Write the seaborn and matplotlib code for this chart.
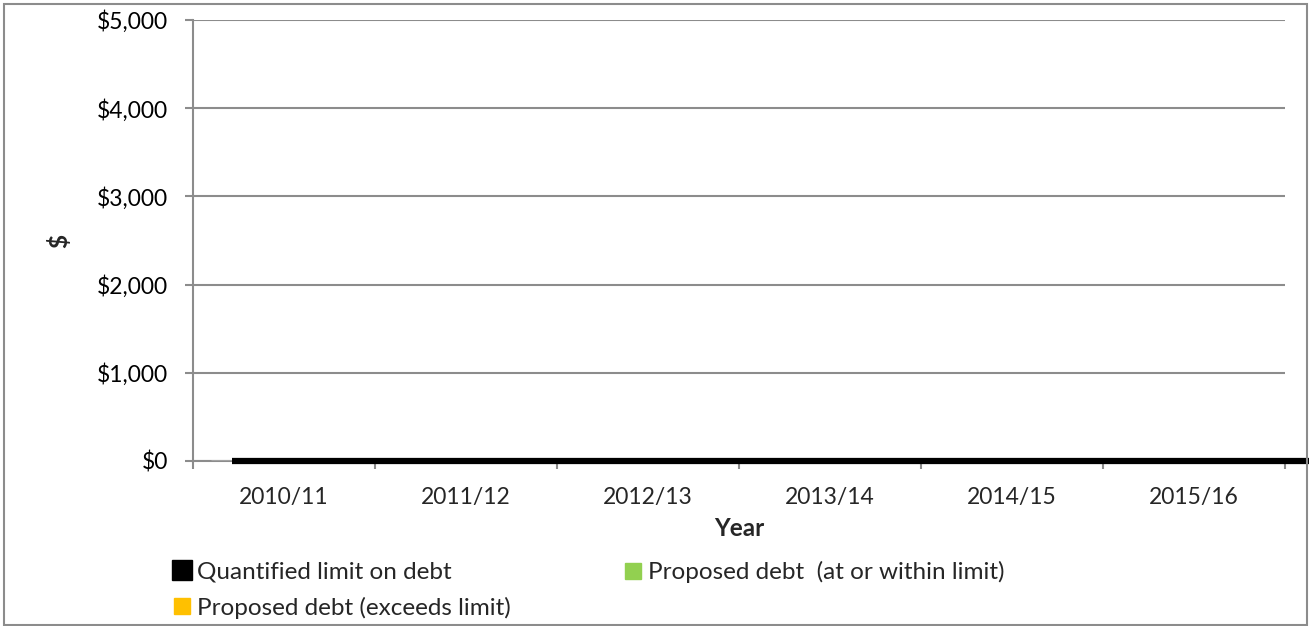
import matplotlib
matplotlib.use("Agg")
import matplotlib.pyplot as plt
import matplotlib.patches as mpatches
from matplotlib.lines import Line2D
import matplotlib.ticker as mticker
import seaborn as sns
import pandas as pd
import numpy as np

# ---- data ----
years = ["2010/11", "2011/12", "2012/13", "2013/14", "2014/15", "2015/16"]
limit_on_debt = [0, 0, 0, 0, 0, 0]
proposed_within = [0, 0, 0, 0, 0, 0]
proposed_exceeds = [0, 0, 0, 0, 0, 0]
y_ticks = [0, 1000, 2000, 3000, 4000, 5000]
series_names = ["Quantified limit on debt",
                "Proposed debt  (at or within limit)",
                "Proposed debt (exceeds limit)"]

GREEN = "#92D050"
ORANGE = "#FFC000"
GRID = "#8c8c8c"

sns.set_style("white")
plt.rcParams["font.family"] = ["Lato", "DejaVu Sans"]

W, H = 1309, 626
fig = plt.figure(figsize=(W/100, H/100), dpi=100)
ax = fig.add_axes([193/W, 1-461/H, (1285-193)/W, (461-20)/H])

df = pd.DataFrame({
    "Year": years * 2,
    "Value": proposed_within + proposed_exceeds,
    "Series": [series_names[1]] * len(years) + [series_names[2]] * len(years),
})
sns.barplot(data=df, x="Year", y="Value", hue="Series",
            palette=[GREEN, ORANGE], ax=ax, legend=False, zorder=3)

ax.set_xlim(-0.5, len(years) - 0.5)
ax.set_ylim(0, 5000)
ax.set_yticks(y_ticks)
ax.yaxis.set_major_formatter(mticker.FuncFormatter(lambda v, p: f"${v:,.0f}"))
ax.grid(axis="y", color=GRID, lw=1.5, zorder=0)
ax.grid(axis="x", visible=False)
for s in ["top", "right"]:
    ax.spines[s].set_visible(False)
ax.spines["left"].set_color(GRID)
ax.spines["left"].set_linewidth(1.5)
ax.spines["bottom"].set_color(GRID)
ax.spines["bottom"].set_linewidth(1.5)

ax.tick_params(axis="y", length=6, width=1.5, color=GRID, pad=12,
               labelsize=16.5, labelcolor="black", left=True)
ax.set_xticks(range(len(years)))
ax.set_xticklabels(years)
ax.set_xticks(np.arange(-0.5, len(years)), minor=True)
ax.tick_params(axis="x", which="major", length=0, pad=19, labelsize=16.5)
ax.tick_params(axis="x", which="minor", length=6, width=1.5, color=GRID,
               direction="out", bottom=True)

ax.set_xlabel("Year", fontsize=17.5, fontweight="bold")
ax.xaxis.set_label_coords(0.5, -0.128)
ax.set_ylabel("$", fontsize=17.5, fontweight="bold")
ax.yaxis.set_label_coords((71-193)/1092, 0.5)

# limit-on-debt line (secondary category axis)
ax2 = ax.twiny()
ax2.plot(range(len(years)), limit_on_debt, color="black", lw=4.5,
         solid_capstyle="butt", clip_on=False, zorder=5)
ax2.set_xlim(-0.181, 4.888)
ax2.set_ylim(0, 5000)
ax2.axis("off")

# legends
LFS = 17.5
h_black = Line2D([], [], marker="s", linestyle="none", markersize=14,
                 markerfacecolor="black", markeredgecolor="black",
                 label=series_names[0])
h_orange = Line2D([], [], marker="s", linestyle="none", markersize=11,
                  markerfacecolor=ORANGE, markeredgecolor=ORANGE,
                  label=series_names[2])
h_green = Line2D([], [], marker="s", linestyle="none", markersize=11,
                 markerfacecolor=GREEN, markeredgecolor=GREEN,
                 label=series_names[1])
common = dict(frameon=False, fontsize=LFS, handlelength=0.6,
              handletextpad=0.3, borderaxespad=0, borderpad=0)
leg1 = fig.legend(handles=[h_black, h_orange], loc="upper left",
                  bbox_to_anchor=(175/W, 1-561/H), labelspacing=0.6, **common)
leg2 = fig.legend(handles=[h_green], loc="upper left",
                  bbox_to_anchor=(626/W, 1-561/H), **common)

# outer chart border
fig.patches.append(mpatches.Rectangle((4/W, 1/H), (1307-4)/W, 621/H,
                                      transform=fig.transFigure, fill=False,
                                      edgecolor=GRID, lw=1.5, zorder=0))

fig.savefig("out.png", dpi=100)
